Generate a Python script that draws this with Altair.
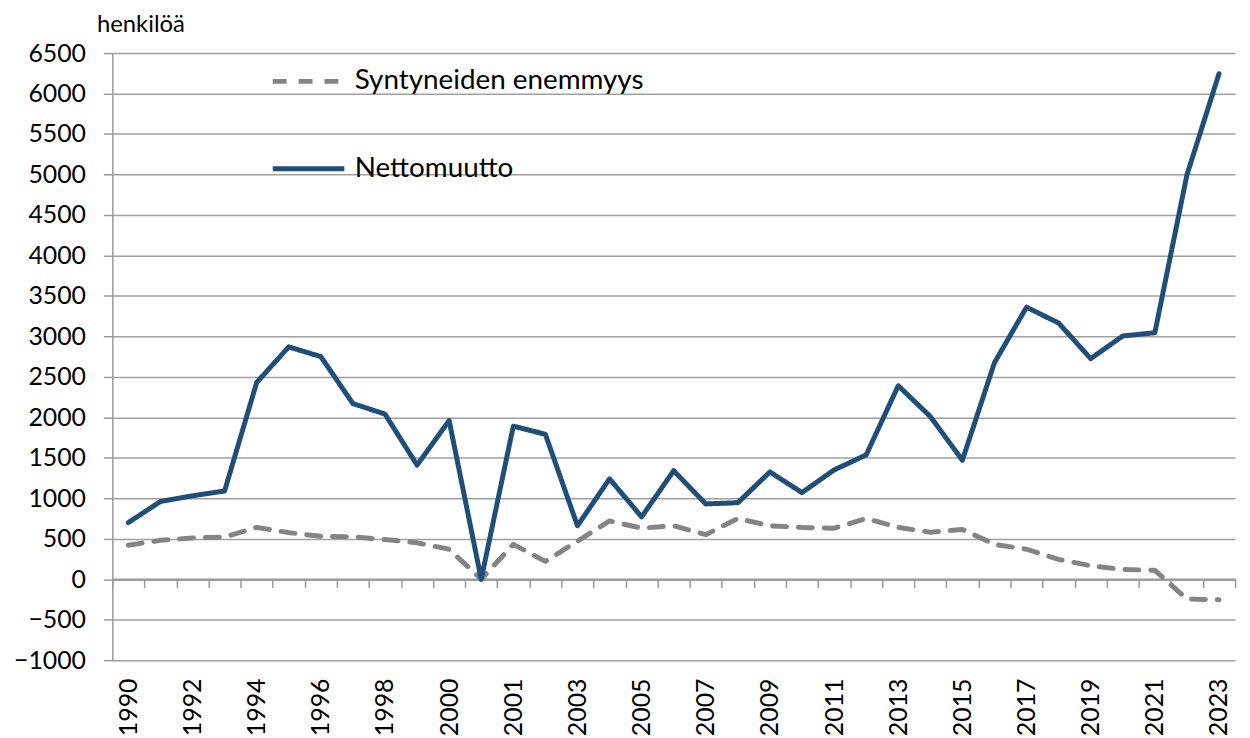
import altair as alt
import pandas as pd

categories = [str(y) for y in range(1990, 2001)] + [" "] + [str(y) for y in range(2001, 2024)]
netto = [700, 960, 1030, 1090, 2430, 2870, 2750, 2170, 2040, 1410, 1960,
         0,
         1890, 1790, 660, 1240, 770, 1340, 930, 945, 1325, 1070, 1350, 1535,
         2390, 2010, 1470, 2675, 3360, 3165, 2725, 3005, 3045, 4995, 6245]
synty = [420, 480, 510, 520, 640, 575, 530, 525, 490, 450, 370,
         0,
         430, 220, 470, 720, 630, 660, 550, 750, 660, 640, 630, 750,
         640, 580, 615, 430, 370, 245, 165, 120, 110, -245, -255]
series_names = ["Syntyneiden enemmyys", "Nettomuutto"]
series_colors = ["#848484", "#1F4E79"]
y_ticks = list(range(-1000, 7000, 500))
shown_labels = categories[0::2]

rows = []
for i, (c, v) in enumerate(zip(categories, synty)):
    rows.append({"vuosi": c, "idx": i, "arvo": v, "sarja": series_names[0]})
for i, (c, v) in enumerate(zip(categories, netto)):
    rows.append({"vuosi": c, "idx": i, "arvo": v, "sarja": series_names[1]})
df = pd.DataFrame(rows)

FONT = "Lato"
label_list = "[" + ",".join("'" + s + "'" for s in shown_labels) + "]"

legend_kw = dict(title=None, orient="none", legendX=159, legendY=-10,
                 symbolType="stroke", symbolSize=5184, symbolStrokeWidth=5,
                 labelFontSize=28, labelFont=FONT, labelColor="black", labelLimit=0,
                 labelOffset=8, rowPadding=35, padding=0)

chart = alt.Chart(df).mark_line(strokeWidth=5, strokeCap="round", strokeJoin="round").encode(
    x=alt.X("vuosi:N", sort=categories, bandPosition=0.5,
            scale=alt.Scale(type="band", paddingInner=0, paddingOuter=0),
            axis=alt.Axis(title=None, offset=-82, tickBand="extent", tickSize=9, tickWidth=1.5,
                          tickColor="#999999", domainColor="#999999", domainWidth=1.5,
                          labelAngle=270, labelPadding=91, labelFontSize=25, labelFont=FONT,
                          labelColor="black", labelOverlap=False, grid=False,
                          labelExpr="indexof(" + label_list + ", datum.label) >= 0 ? datum.label : ''")),
    y=alt.Y("arvo:Q", scale=alt.Scale(domain=[-1000, 6500], nice=False, zero=False),
            axis=alt.Axis(values=y_ticks, format="d", title="henkilöä", titleAngle=0, titleAlign="left",
                          titleBaseline="alphabetic", titleX=-16, titleY=-22, titleFontSize=24,
                          titleFont=FONT, titleFontWeight="normal", titleColor="black",
                          tickSize=9, tickWidth=1.5, tickColor="#999999",
                          domainColor="#999999", domainWidth=1.5,
                          labelFontSize=25, labelFont=FONT, labelColor="black", labelPadding=18,
                          grid=True, gridColor="#a0a0a0", gridWidth=1.5)),
    color=alt.Color("sarja:N", scale=alt.Scale(domain=series_names, range=series_colors),
                    legend=alt.Legend(**legend_kw)),
    strokeDash=alt.StrokeDash("sarja:N", scale=alt.Scale(domain=series_names, range=[[14, 12], [1, 0]]),
                              legend=alt.Legend(**legend_kw)),
    order=alt.Order("idx:Q")
).properties(
    width=1130, height=611,
    autosize=alt.AutoSizeParams(type="none"),
    padding={"left": 105, "top": 43, "right": 7, "bottom": 76},
    background="white"
).configure_view(stroke=None)

chart.save("out.html", embed_options={"renderer": "svg", "actions": False})
